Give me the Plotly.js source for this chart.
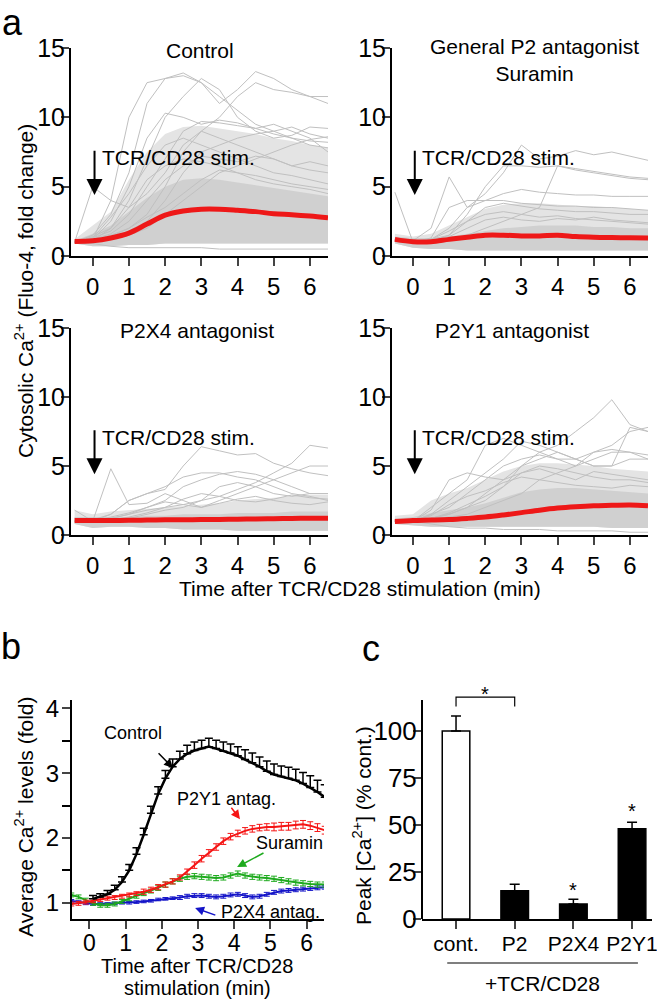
<!DOCTYPE html>
<html>
<head>
<meta charset="utf-8">
<script src="https://cdn.plot.ly/plotly-3.0.1.min.js"></script>
<style>
  body { margin: 0; background: white; }
  #chart { width: 657px; height: 1000px; }
</style>
</head>
<body>
<div id="chart"></div>
<script>
// ---- panel a: single-cell traces (fold change), time grid in min
var ta = [-0.5, 0, 0.5, 1, 1.5, 2, 2.5, 3, 3.5, 4, 4.5, 5, 5.5, 6, 6.5];

var ctrlMean = [1.05, 1.1, 1.3, 1.65, 2.3, 2.95, 3.25, 3.38, 3.38, 3.3, 3.2, 3.05, 2.98, 2.88, 2.75];
var suraMean = [1.2, 1.03, 1.03, 1.2, 1.35, 1.5, 1.5, 1.45, 1.45, 1.5, 1.4, 1.35, 1.33, 1.32, 1.3];
var p2x4Mean = [1.05, 1.05, 1.05, 1.06, 1.08, 1.1, 1.1, 1.12, 1.13, 1.15, 1.16, 1.18, 1.2, 1.21, 1.22];
var p2y1Mean = [0.98, 1.05, 1.08, 1.12, 1.2, 1.3, 1.45, 1.62, 1.8, 1.95, 2.05, 2.12, 2.15, 2.18, 2.12];

// dense part of the gray cloud: low edge, dense core, outer edge
var ctrlLo  = [0.9, 0.7, 0.7, 0.8, 0.8, 0.9, 0.9, 0.9, 0.9, 0.9, 0.9, 0.9, 0.9, 0.9, 0.9];
var ctrlMid = [1.1, 1.6, 2.2, 3.2, 4.2, 5.0, 5.5, 5.6, 5.5, 5.3, 5.1, 4.9, 4.7, 4.5, 4.3];
var ctrlHi  = [1.2, 2.2, 3.2, 5.5, 7.5, 8.8, 9.3, 9.4, 9.2, 9.0, 8.8, 8.5, 8.3, 8.0, 7.8];
var suraLo  = [0.9, 0.6, 0.5, 0.5, 0.4, 0.4, 0.4, 0.4, 0.4, 0.4, 0.4, 0.4, 0.4, 0.4, 0.4];
var suraMid = [1.4, 1.3, 1.3, 1.4, 1.6, 1.8, 2.0, 2.1, 2.2, 2.2, 2.2, 2.1, 2.1, 2.0, 2.0];
var suraHi  = [1.6, 1.4, 1.6, 2.2, 2.8, 3.4, 3.7, 3.8, 3.8, 3.7, 3.6, 3.6, 3.5, 3.4, 3.3];
var p2x4Lo  = [0.8, 0.5, 0.6, 0.6, 0.5, 0.5, 0.4, 0.4, 0.4, 0.3, 0.3, 0.3, 0.3, 0.3, 0.3];
var p2x4Mid = [1.3, 1.3, 1.3, 1.3, 1.4, 1.4, 1.5, 1.5, 1.5, 1.6, 1.6, 1.6, 1.7, 1.7, 1.7];
var p2x4Hi  = [1.8, 1.5, 1.7, 1.8, 1.9, 2.0, 2.1, 2.2, 2.3, 2.5, 2.6, 2.7, 2.8, 2.9, 2.9];
var p2y1Lo  = [0.8, 0.7, 0.6, 0.6, 0.6, 0.6, 0.6, 0.6, 0.6, 0.6, 0.6, 0.6, 0.5, 0.5, 0.5];
var p2y1Mid = [1.2, 1.3, 1.6, 1.8, 2.0, 2.3, 2.7, 3.1, 3.3, 3.4, 3.4, 3.3, 3.2, 3.1, 3.0];
var p2y1Hi  = [1.4, 1.5, 2.5, 3.0, 3.4, 4.0, 4.6, 5.0, 5.2, 5.2, 5.1, 5.0, 4.8, 4.7, 4.6];

// individual cells drawn on top of the cloud
var ctrlCells = [
  [1.0, 1.2, 4.0, 10.0, 12.5, 12.8, 13.0, 12.5, 11.5, 10.5, 9.5, 9.0, 8.5, 8.0, 7.8],
  [1.0, 1.5, 3.0, 6.0, 11.0, 12.8, 13.2, 12.5, 11.0, 12.0, 13.3, 12.8, 12.0, 11.5, 11.0],
  [1.0, 1.1, 2.0, 4.0, 7.0, 10.0, 11.5, 12.8, 12.0, 10.0, 9.0, 8.5, 8.7, 9.3, 9.2],
  [1.0, 1.2, 2.5, 5.0, 8.5, 10.3, 10.0, 9.5, 9.8, 9.6, 9.2, 8.8, 8.5, 8.3, 8.2],
  [1.0, 1.3, 1.8, 3.0, 5.0, 7.0, 9.0, 9.7, 9.6, 9.4, 9.2, 9.5, 9.0, 8.5, 7.5],
  [1.0, 5.0, 4.0, 3.5, 4.5, 6.0, 8.0, 9.0, 8.5, 8.0, 7.5, 7.0, 6.5, 6.2, 6.0],
  [1.0, 1.2, 1.5, 2.0, 3.0, 5.0, 7.5, 9.0, 10.0, 11.5, 12.5, 12.0, 11.8, 11.5, 11.5],
  [1.0, 1.0, 1.3, 1.8, 2.5, 4.0, 6.0, 7.5, 8.0, 8.5, 8.8, 9.0, 9.3, 8.8, 8.5],
  [1.0, 1.1, 1.2, 1.5, 2.0, 3.0, 4.0, 5.0, 6.0, 6.5, 7.0, 7.5, 8.0, 8.4, 8.6],
  [1.0, 1.4, 2.0, 3.5, 5.5, 6.5, 7.0, 6.8, 6.5, 6.0, 5.8, 5.5, 5.2, 5.0, 4.8],
  [1.0, 1.2, 1.6, 2.5, 4.0, 5.5, 6.5, 7.2, 7.0, 6.8, 7.2, 7.0, 6.5, 6.8, 6.5],
  [1.0, 1.3, 2.8, 4.5, 6.5, 8.0, 8.5, 8.0, 7.5, 7.0, 6.5, 6.0, 5.8, 5.5, 5.2],
  [1.0, 1.1, 1.4, 2.0, 2.8, 3.5, 4.5, 5.5, 6.2, 6.0, 5.5, 5.2, 5.0, 4.8, 4.5],
  [1.0, 0.9, 0.7, 0.6, 0.6, 0.6, 0.6, 0.6, 0.5, 0.5, 0.5, 0.5, 0.5, 0.5, 0.5]
];
var suraCells = [
  [1.2, 1.0, 1.2, 1.5, 3.0, 5.0, 6.5, 6.5, 6.4, 6.5, 6.3, 6.1, 5.9, 5.7, 5.6],
  [1.2, 1.0, 1.2, 2.0, 3.5, 4.5, 6.0, 8.0, 7.0, 7.2, 7.6, 7.3, 7.5, 7.2, 6.9],
  [1.2, 1.1, 2.0, 5.7, 3.5, 4.0, 4.5, 4.8, 4.6, 4.5, 4.4, 4.4, 4.3, 4.3, 4.3],
  [1.1, 1.0, 1.3, 3.5, 4.0, 4.0, 4.0, 3.8, 3.7, 3.6, 3.6, 3.5, 3.5, 3.4, 3.3],
  [1.1, 1.0, 1.0, 1.2, 1.5, 2.0, 2.5, 3.0, 3.5, 6.5, 6.2, 6.0, 5.8, 5.6, 5.5],
  [4.6, 1.0, 1.0, 1.5, 2.5, 3.5, 3.8, 3.6, 3.4, 3.3, 3.2, 3.2, 3.1, 3.0, 3.0],
  [1.1, 1.0, 1.2, 1.8, 2.5, 3.0, 3.2, 3.0, 2.8, 2.9, 2.7, 2.6, 2.5, 2.4, 2.3],
  [1.2, 1.0, 1.1, 1.4, 2.0, 2.6, 2.8, 2.6, 2.5, 2.7, 2.6, 2.8, 2.6, 2.5, 2.4]
];
var p2x4Cells = [
  [1.8, 1.0, 1.5, 2.5, 3.0, 3.3, 5.0, 6.4, 6.1, 5.8, 5.9, 5.2, 4.8, 4.5, 4.3],
  [1.0, 1.0, 4.8, 2.2, 2.3, 3.0, 2.5, 2.0, 2.5, 3.0, 3.5, 4.0, 4.5, 5.0, 5.0],
  [1.0, 1.1, 1.5, 2.5, 3.0, 3.5, 4.2, 4.5, 4.5, 4.2, 4.0, 3.5, 3.0, 2.8, 2.5],
  [1.0, 1.0, 1.2, 1.5, 2.0, 2.5, 3.5, 4.0, 4.4, 4.6, 4.4, 4.0, 3.5, 3.0, 3.0],
  [1.0, 1.0, 1.0, 1.2, 1.5, 1.8, 2.0, 2.5, 3.5, 3.8, 3.5, 3.0, 2.8, 3.0, 3.0],
  [1.0, 1.0, 1.2, 1.5, 1.8, 2.0, 2.2, 2.5, 2.8, 3.3, 3.8, 4.5, 5.2, 6.5, 6.3],
  [1.0, 1.0, 1.3, 1.6, 2.0, 2.4, 2.2, 2.0, 2.3, 2.6, 2.8, 2.5, 2.3, 2.2, 2.4],
  [1.0, 1.0, 1.1, 1.3, 1.6, 2.0, 2.6, 3.0, 2.8, 2.5, 2.4, 2.6, 2.9, 2.7, 2.6]
];
var p2y1Cells = [
  [1.0, 1.0, 1.2, 1.5, 2.0, 2.5, 3.5, 5.0, 6.0, 6.5, 7.5, 8.5, 9.8, 8.0, 7.5],
  [1.0, 1.0, 2.0, 3.0, 4.0, 6.5, 7.0, 6.5, 6.0, 5.5, 5.5, 6.0, 6.5, 7.5, 7.8],
  [1.0, 1.0, 1.5, 2.5, 3.5, 4.5, 5.5, 6.8, 6.5, 6.0, 5.5, 5.0, 5.0, 5.5, 5.5],
  [1.0, 1.0, 1.5, 2.0, 3.0, 4.0, 5.0, 5.5, 5.8, 5.5, 5.0, 6.0, 6.2, 6.0, 5.8],
  [1.0, 1.0, 1.8, 4.0, 4.5, 4.2, 4.0, 4.5, 5.0, 4.8, 4.5, 4.2, 4.0, 4.0, 3.8],
  [1.0, 1.0, 1.2, 1.5, 2.0, 3.0, 4.0, 5.0, 5.5, 6.0, 5.5, 5.0, 5.0, 7.8, 7.5],
  [1.0, 1.0, 1.2, 1.3, 1.5, 2.0, 2.5, 3.0, 4.0, 4.5, 5.0, 5.5, 6.0, 6.0, 5.5],
  [1.0, 1.0, 1.4, 2.2, 2.8, 3.2, 3.8, 4.2, 4.0, 3.8, 3.6, 3.5, 3.4, 3.6, 3.5],
  [1.0, 1.0, 1.2, 1.6, 2.2, 2.8, 3.5, 4.5, 4.8, 4.4, 4.0, 4.6, 4.4, 4.2, 4.0],
  [1.0, 1.0, 0.8, 0.6, 0.5, 0.5, 0.4, 0.4, 0.4, 0.3, 0.3, 0.3, 0.3, 0.2, 0.2]
];

// ---- panel b: averages +- sem
var tb = [-0.5, -0.3, -0.1, 0.1, 0.3, 0.5, 0.7, 0.9, 1.1, 1.3, 1.5, 1.7, 1.9, 2.1, 2.3, 2.5, 2.7, 2.9,
          3.1, 3.3, 3.5, 3.7, 3.9, 4.1, 4.3, 4.5, 4.7, 4.9, 5.1, 5.3, 5.5, 5.7, 5.9, 6.1, 6.3, 6.5];
var ctrlAvg = [null, null, null, 1.06, 1.09, 1.13, 1.2, 1.32, 1.5, 1.75, 2.05, 2.38, 2.68, 2.92, 3.1, 3.22, 3.3, 3.35,
               3.38, 3.41, 3.38, 3.34, 3.31, 3.27, 3.21, 3.16, 3.1, 3.03, 2.98, 2.95, 2.92, 2.89, 2.84, 2.78, 2.71, 2.63];
var ctrlSem = [null, null, null, 0.05, 0.05, 0.06, 0.07, 0.08, 0.09, 0.1, 0.1, 0.11, 0.11, 0.12, 0.12, 0.12, 0.13, 0.13,
               0.13, 0.13, 0.13, 0.14, 0.14, 0.14, 0.15, 0.15, 0.15, 0.16, 0.16, 0.16, 0.17, 0.17, 0.17, 0.18, 0.18, 0.19];
var p2y1Avg = [0.98, 0.99, 1.01, 1.03, 1.05, 1.07, 1.08, 1.1, 1.12, 1.14, 1.17, 1.2, 1.24, 1.28, 1.33, 1.39, 1.48, 1.58,
               1.68, 1.77, 1.86, 1.95, 2.02, 2.07, 2.11, 2.14, 2.16, 2.17, 2.17, 2.18, 2.18, 2.2, 2.21, 2.19, 2.16, 2.12];
var p2y1Sem = [0.03, 0.03, 0.03, 0.03, 0.03, 0.03, 0.03, 0.03, 0.03, 0.03, 0.04, 0.04, 0.04, 0.04, 0.04, 0.04, 0.04, 0.05,
               0.05, 0.05, 0.05, 0.05, 0.05, 0.05, 0.05, 0.05, 0.05, 0.05, 0.06, 0.06, 0.06, 0.06, 0.06, 0.06, 0.06, 0.06];
var suraAvg = [1.12, 1.09, 1.04, 0.99, 0.96, 0.96, 0.98, 1.02, 1.06, 1.1, 1.14, 1.18, 1.23, 1.28, 1.33, 1.37, 1.4, 1.41,
               1.4, 1.39, 1.38, 1.39, 1.42, 1.45, 1.42, 1.4, 1.39, 1.38, 1.37, 1.35, 1.33, 1.31, 1.3, 1.29, 1.28, 1.28];
var suraSem = [0.03, 0.03, 0.03, 0.03, 0.03, 0.03, 0.03, 0.03, 0.03, 0.03, 0.03, 0.03, 0.04, 0.04, 0.04, 0.04, 0.04, 0.04,
               0.04, 0.04, 0.04, 0.04, 0.04, 0.04, 0.04, 0.04, 0.04, 0.04, 0.04, 0.04, 0.04, 0.04, 0.04, 0.04, 0.04, 0.04];
var p2x4Avg = [1.03, 1.01, 0.99, 0.98, 0.98, 0.98, 0.99, 1.0, 1.0, 1.01, 1.02, 1.03, 1.05, 1.06, 1.07, 1.08, 1.1, 1.11,
               1.11, 1.1, 1.09, 1.1, 1.12, 1.13, 1.11, 1.09, 1.1, 1.13, 1.16, 1.18, 1.19, 1.2, 1.21, 1.22, 1.23, 1.24];
var p2x4Sem = [0.02, 0.02, 0.02, 0.02, 0.02, 0.02, 0.02, 0.02, 0.02, 0.02, 0.02, 0.02, 0.02, 0.02, 0.02, 0.03, 0.03, 0.03,
               0.03, 0.03, 0.03, 0.03, 0.03, 0.03, 0.03, 0.03, 0.03, 0.03, 0.03, 0.03, 0.03, 0.03, 0.03, 0.03, 0.03, 0.03];

// ---- panel c: peak Ca2+ (% control)
var cats = ['cont.', 'P2', 'P2X4', 'P2Y1'];
var peak = [100, 15, 8, 48];
var peakSem = [8, 3.5, 2.5, 3.5];

var FONT = 'Liberation Sans, Arial, Helvetica, sans-serif';
var GRAY = 'rgb(192,192,192)';
var RED = 'rgb(238,24,24)';

var data = [];

function cloud(xa, ya, lo, mid, hi, cells, mean) {
  data.push({x: ta, y: lo, xaxis: xa, yaxis: ya, mode: 'lines', line: {width: 0}, hoverinfo: 'skip'});
  data.push({x: ta, y: hi, xaxis: xa, yaxis: ya, mode: 'lines', line: {width: 0},
             fill: 'tonexty', fillcolor: 'rgb(228,228,228)', hoverinfo: 'skip'});
  data.push({x: ta, y: lo, xaxis: xa, yaxis: ya, mode: 'lines', line: {width: 0}, hoverinfo: 'skip'});
  data.push({x: ta, y: mid, xaxis: xa, yaxis: ya, mode: 'lines', line: {width: 0},
             fill: 'tonexty', fillcolor: 'rgb(208,208,208)', hoverinfo: 'skip'});
  cells.forEach(function(c) {
    data.push({x: ta, y: c, xaxis: xa, yaxis: ya, mode: 'lines', line: {color: GRAY, width: 1}});
  });
  data.push({x: ta, y: mean, xaxis: xa, yaxis: ya, mode: 'lines',
             line: {color: RED, width: 5, shape: 'spline'}});
}
cloud('x', 'y', ctrlLo, ctrlMid, ctrlHi, ctrlCells, ctrlMean);
cloud('x2', 'y2', suraLo, suraMid, suraHi, suraCells, suraMean);
cloud('x3', 'y3', p2x4Lo, p2x4Mid, p2x4Hi, p2x4Cells, p2x4Mean);
cloud('x4', 'y4', p2y1Lo, p2y1Mid, p2y1Hi, p2y1Cells, p2y1Mean);

function avgTrace(y, sem, color, w, upOnly) {
  return {
    x: tb, y: y, xaxis: 'x5', yaxis: 'y5', mode: 'lines',
    line: {color: color, width: w},
    error_y: upOnly
      ? {type: 'data', array: sem, arrayminus: sem.map(function() { return 0; }), color: color, thickness: 1.5, width: 4}
      : {type: 'data', array: sem, color: color, thickness: 1, width: 3}
  };
}
data.push(avgTrace(p2x4Avg, p2x4Sem, 'rgb(20,20,200)', 2, false));
data.push(avgTrace(suraAvg, suraSem, 'rgb(30,170,30)', 2, false));
data.push(avgTrace(p2y1Avg, p2y1Sem, 'rgb(245,20,20)', 2, false));
data.push(avgTrace(ctrlAvg, ctrlSem, 'black', 2.5, true));

data.push({
  type: 'bar', x: cats, y: peak, xaxis: 'x6', yaxis: 'y6', width: 0.47,
  marker: {color: ['white', 'black', 'black', 'black'], line: {color: 'black', width: 1.5}},
  error_y: {type: 'data', array: peakSem, arrayminus: [0, 0, 0, 0], color: 'black', thickness: 1.5, width: 5}
});

function ax(dom, rng, vals, fs, off) {
  return {domain: dom, range: rng, tickvals: vals, ticks: 'outside', ticklen: 8, tickwidth: 2,
          ticklabelstandoff: off, showline: true, linewidth: 2, linecolor: 'black',
          showgrid: false, zeroline: false, tickfont: {family: FONT, size: fs, color: 'black'}};
}
var xL = [71 / 657, 328 / 657], xR = [392 / 657, 648 / 657];
var yT = [0.744, 0.952], yB = [0.465, 0.672];
var tA = [0, 1, 2, 3, 4, 5, 6], vA = [0, 5, 10, 15];

var layout = {
  width: 657, height: 1000, margin: {l: 0, r: 0, t: 0, b: 0},
  paper_bgcolor: 'white', plot_bgcolor: 'rgba(0,0,0,0)', showlegend: false,
  font: {family: FONT, color: 'black'},
  xaxis: Object.assign(ax(xL, [-0.6, 6.5], tA, 24, 0), {anchor: 'y'}),
  yaxis: Object.assign(ax(yT, [0, 15], vA, 25, -9), {anchor: 'x'}),
  xaxis2: Object.assign(ax(xR, [-0.58, 6.5], tA, 24, 0), {anchor: 'y2'}),
  yaxis2: Object.assign(ax(yT, [0, 15], vA, 25, -9), {anchor: 'x2'}),
  xaxis3: Object.assign(ax(xL, [-0.6, 6.5], tA, 24, 0), {anchor: 'y3'}),
  yaxis3: Object.assign(ax(yB, [0, 15], vA, 25, -9), {anchor: 'x3'}),
  xaxis4: Object.assign(ax(xR, [-0.58, 6.5], tA, 24, 0), {anchor: 'y4'}),
  yaxis4: Object.assign(ax(yB, [0, 15], vA, 25, -9), {anchor: 'x4'}),
  xaxis5: Object.assign(ax([72 / 657, 324 / 657], [-0.48, 6.48], tA, 23, -6), {anchor: 'y5'}),
  yaxis5: Object.assign(ax([0.0807, 0.300], [0.744, 4.13], [1, 2, 3, 4], 24, -2),
                        {anchor: 'x5', minor: {tickvals: [1.5, 2.5, 3.5], ticks: 'outside', ticklen: 8, tickwidth: 2, tickcolor: 'black'}}),
  xaxis6: Object.assign(ax([422 / 657, 652 / 657], [-0.58, 3.34], undefined, 21, -3),
                        {anchor: 'y6', type: 'category'}),
  yaxis6: Object.assign(ax([0.081, 0.3085], [0, 121], [0, 25, 50, 75, 100], 26, -9),
                        {anchor: 'x6', showline: false}),
  shapes: [
    // panel c y axis line (stops below the bracket)
    {type: 'line', xref: 'x6 domain', yref: 'y6', x0: 0, x1: 0, y0: 0, y1: 116.5, line: {color: 'black', width: 2}},
    // significance bracket cont. vs P2
    {type: 'path', xref: 'x6', yref: 'y6', path: 'M 0 113 L 0 118 L 1 118 L 1 113', line: {color: 'black', width: 1.2}},
    // +TCR/CD28 underline
    {type: 'line', xref: 'x6', yref: 'paper', x0: -0.15, x1: 3.1, y0: 0.037, y1: 0.037, line: {color: 'black', width: 1.2}}
  ],
  annotations: []
};

var ann = layout.annotations;
function txt(o) {
  ann.push(Object.assign({showarrow: false, xanchor: 'center', yanchor: 'middle',
                          font: {family: FONT, size: 21, color: 'black'}}, o));
}
var big = {family: FONT, size: 36, color: 'black'};

// panel letters
txt({text: 'a', xref: 'paper', yref: 'paper', x: 12 / 657, y: 1, yanchor: 'top', font: big});
txt({text: 'b', xref: 'paper', yref: 'paper', x: 11 / 657, y: 0.354, font: big});
txt({text: 'c', xref: 'paper', yref: 'paper', x: 371 / 657, y: 0.352, font: big});

// panel a titles
txt({text: 'Control', xref: 'x', yref: 'y', x: 2.96, y: 14.8});
txt({text: 'General P2 antagonist<br>Suramin', xref: 'x2', yref: 'y2', x: 3.37, y: 14.1});
txt({text: 'P2X4 antagonist', xref: 'x3', yref: 'y3', x: 2.88, y: 14.8});
txt({text: 'P2Y1 antagonist', xref: 'x4', yref: 'y4', x: 2.74, y: 14.8});
[['x', 'y'], ['x2', 'y2'], ['x3', 'y3'], ['x4', 'y4']].forEach(function(p) {
  ann.push({xref: p[0], yref: p[1], axref: p[0], ayref: p[1], x: 0.05, y: 4.4, ax: 0.05, ay: 7.7,
            text: '', showarrow: true, arrowhead: 2, arrowsize: 1.6, arrowwidth: 2, arrowcolor: 'black'});
  txt({text: 'TCR/CD28 stim.', xref: p[0], yref: p[1], x: 0.2, y: 7.1, xanchor: 'left'});
});
txt({text: 'Cytosolic Ca<sup>2+</sup> (Fluo-4, fold change)', xref: 'paper', yref: 'paper',
     x: 24 / 657, y: 0.709, textangle: -90});
txt({text: 'Time after TCR/CD28 stimulation (min)', xref: 'paper', yref: 'paper', x: 360 / 657, y: 0.412});

// panel b labels
txt({text: 'Average Ca<sup>2+</sup> levels (fold)', xref: 'paper', yref: 'paper', x: 24 / 657, y: 0.183, textangle: -90});
var bTitle = {family: FONT, size: 20, color: 'black'};
txt({text: 'Time after TCR/CD28', xref: 'paper', yref: 'paper', x: 197 / 657, y: 0.034, font: bTitle});
txt({text: 'stimulation (min)', xref: 'paper', yref: 'paper', x: 197 / 657, y: 0.012, font: bTitle});
var bFont = {family: FONT, size: 18, color: 'black'};
txt({text: 'Control', xref: 'x5', yref: 'y5', x: 1.21, y: 3.62, font: bFont});
txt({text: 'P2Y1 antag.', xref: 'x5', yref: 'y5', x: 3.78, y: 2.6, font: bFont});
txt({text: 'Suramin', xref: 'x5', yref: 'y5', x: 5.54, y: 1.92, font: bFont});
txt({text: 'P2X4 antag.', xref: 'x5', yref: 'y5', x: 4.99, y: 0.86, font: bFont});
[[2.31, 3.08, 1.87, 3.33, 'black'], [4.16, 2.29, 3.89, 2.49, 'rgb(245,20,20)'],
 [4.08, 1.55, 4.85, 1.78, 'rgb(30,170,30)'], [2.92, 0.92, 3.52, 0.8, 'rgb(20,20,200)']].forEach(function(a) {
  ann.push({xref: 'x5', yref: 'y5', axref: 'x5', ayref: 'y5', x: a[0], y: a[1], ax: a[2], ay: a[3],
            text: '', showarrow: true, arrowhead: 2, arrowsize: 1.2, arrowwidth: 1.5, arrowcolor: a[4]});
});

// panel c labels
txt({text: 'Peak [Ca<sup>2+</sup>] (% cont.)', xref: 'paper', yref: 'paper', x: 362 / 657, y: 0.174, textangle: -90});
txt({text: '+TCR/CD28', xref: 'x6', yref: 'paper', x: 1.48, y: 0.017});
var star = {family: FONT, size: 20, color: 'black'};
txt({text: '*', xref: 'x6', yref: 'y6', x: 0.5, y: 119.5, font: star});
txt({text: '*', xref: 'x6', yref: 'y6', x: 2, y: 15.5, font: star});
txt({text: '*', xref: 'x6', yref: 'y6', x: 3, y: 57.5, font: star});

Plotly.newPlot('chart', data, layout, {staticPlot: true});
</script>
</body>
</html>
